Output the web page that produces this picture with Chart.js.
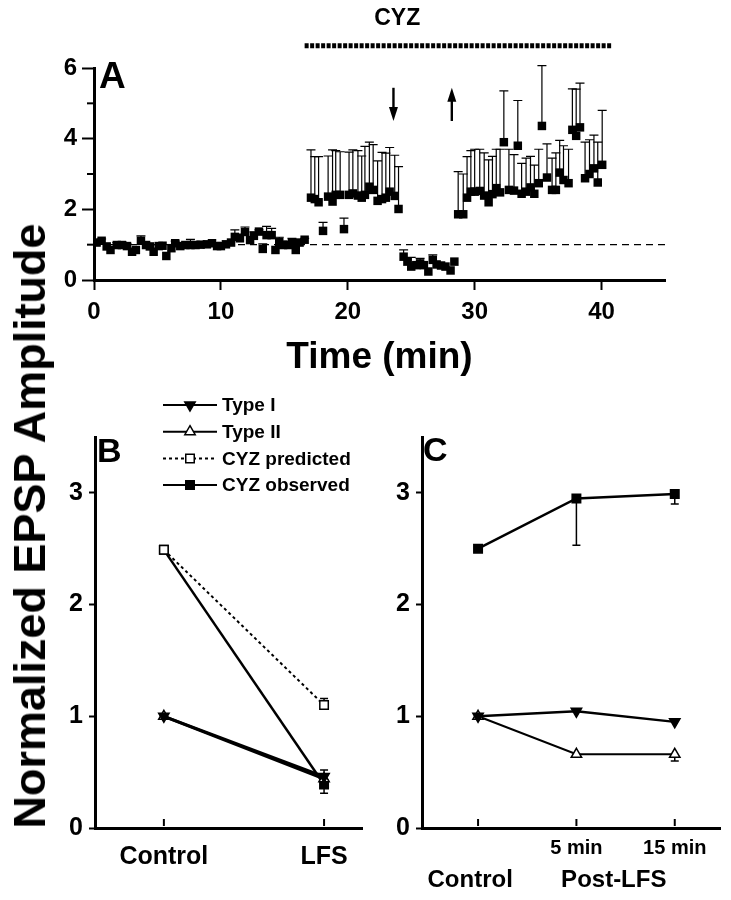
<!DOCTYPE html>
<html>
<head>
<meta charset="utf-8">
<script src="https://cdn.jsdelivr.net/npm/chart.js@4.4.1/dist/chart.umd.min.js"></script>
<style>
  body { margin: 0; background: #fff; width: 731px; height: 900px; position: relative; overflow: hidden; font-family: 'Liberation Sans', Arial, sans-serif; }
  canvas { position: absolute; }
  #chartA { left: 0; top: 0; }
  #chartB { left: 0; top: 390px; }
  #chartC { left: 370px; top: 390px; }
  #yTitle { position: absolute; left: 30px; top: 526px; transform: translate(-50%, -50%) rotate(-90deg); font-weight: bold; font-size: 45px; white-space: nowrap; color: #000; }
</style>
</head>
<body>
<canvas id="chartA" width="731" height="390"></canvas>
<canvas id="chartB" width="370" height="510"></canvas>
<canvas id="chartC" width="361" height="510"></canvas>
<div id="yTitle">Normalized EPSP Amplitude</div>
<script>
// ---- Panel A: time course ----
const timeA = [
  0.2, 0.6, 1.0, 1.3, 1.8, 2.2, 2.6, 3.0, 3.3, 3.7, 4.1, 4.4, 4.7, 5.1, 5.4, 5.7, 6.1, 6.4, 6.8, 7.2,
  7.6, 8.0, 8.4, 8.9, 9.3, 9.7, 10.0, 10.4, 10.8, 11.1, 11.5, 11.9, 12.3, 12.6, 13.0, 13.3, 13.6, 14.0, 14.3, 14.6,
  14.9, 15.3, 15.6, 15.9, 16.2, 16.6,
  17.1, 17.4, 17.7, 18.05, 18.45, 18.8, 19.05, 19.4, 19.7, 20.1, 20.4, 20.8, 21.1, 21.35, 21.7, 22.0, 22.35, 22.7, 23.0, 23.3,
  23.7, 24.0,
  24.4, 24.7, 25.0, 25.4, 25.7, 26.0, 26.35, 26.7, 27.0, 27.35, 27.7, 28.1, 28.4,
  28.7, 29.1, 29.4, 29.7, 30.0, 30.4, 30.75, 31.1, 31.4, 31.7, 32.0, 32.3, 32.7, 33.1, 33.4, 33.7, 34.05, 34.4, 34.7, 35.05,
  35.3, 35.7, 36.1, 36.4, 36.7, 37.0, 37.4, 37.7, 38.0, 38.3, 38.7, 39.05, 39.4, 39.7, 40.05
];
const ampA = [
  1.06, 1.11, 0.95, 0.85, 0.99, 0.99, 0.96, 0.80, 0.85, 1.11, 0.99, 0.95, 0.80, 0.96, 0.97, 0.68, 0.90, 1.04, 0.96, 0.99,
  0.99, 0.99, 1.00, 1.01, 1.04, 0.96, 0.96, 1.01, 1.06, 1.22, 1.18, 1.36, 1.13, 1.25, 1.37, 0.88, 1.27, 1.27, 0.85, 1.08,
  0.99, 0.99, 1.04, 0.85, 1.06, 1.14,
  2.33, 2.29, 2.20, 1.39, 2.36, 2.22, 2.41, 2.41, 1.44, 2.41, 2.45, 2.39, 2.33, 2.41, 2.64, 2.55, 2.24, 2.29, 2.33, 2.50,
  2.38, 2.01,
  0.66, 0.52, 0.38, 0.42, 0.47, 0.42, 0.24, 0.57, 0.44, 0.41, 0.38, 0.27, 0.52,
  1.86, 1.86, 2.33, 2.50, 2.50, 2.52, 2.39, 2.20, 2.43, 2.60, 2.48, 3.90, 2.55, 2.53, 3.80, 2.44, 2.50, 2.62, 2.44, 2.74,
  4.36, 2.90, 2.55, 2.55, 3.04, 2.83, 2.74, 4.25, 4.08, 4.32, 2.88, 3.00, 3.16, 2.76, 3.26
];
const semA = [
  0, 0.05, 0, 0, 0.07, 0.09, 0.06, 0, 0, 0.14, 0.05, 0, 0, 0.04, 0, 0, 0, 0.06, 0, 0,
  0.16, 0.09, 0, 0.05, 0, 0, 0, 0, 0, 0.20, 0.12, 0.14, 0, 0.11, 0.05, 0.14, 0.25, 0.19, 0, 0.13,
  0.11, 0, 0.14, 0.15, 0, 0.04,
  1.35, 1.20, 1.29, 0.24, 1.15, 1.46, 1.25, 1.22, 0.31, 1.21, 1.23, 1.27, 1.18, 1.37, 1.26, 1.28, 1.13, 1.32, 1.26, 1.25,
  1.15, 1.20,
  0.19, 0, 0.26, 0, 0.14, 0, 0, 0.14, 0, 0, 0, 0, 0,
  1.21, 1.14, 1.16, 1.16, 1.20, 1.18, 1.21, 1.20, 1.07, 1.10, 1.22, 1.45, 1.15, 1.02, 1.28, 0.86, 0.95, 0.88, 0.81, 0.96,
  1.71, 0.95, 0.90, 1.05, 0.91, 0.97, 0.96, 1.16, 1.32, 1.25, 1.02, 0.97, 0.94, 1.14, 1.54
];
const xTicksA = [0, 10, 20, 30, 40];
const yTicksA = [0, 2, 4, 6];
const yMinorTicksA = [1, 3, 5];
const baselineA = 1;
const cyzLabel = 'CYZ';
const cyzStart = 16.6;
const cyzEnd = 40.8;
const arrowDownAt = 23.6;
const arrowUpAt = 28.2;

// ---- Panel B: before / after LFS ----
const catsB = ['Control', 'LFS'];
const typeIB = [1.0, 0.46];
const typeIIB = [1.0, 0.44];
const cyzPredB = [2.49, 1.10];
const cyzObsB = [2.49, 0.39];

// ---- Panel C: post-LFS time points ----
const catsC = ['', '5 min', '15 min'];
const groupLabelsC = ['Control', 'Post-LFS'];
const groupPosC = [-0.08, 1.38];
const typeIC = [1.0, 1.045, 0.95];
const typeIIC = [1.0, 0.66, 0.66];
const cyzObsC = [2.5, 2.95, 2.99];

Chart.defaults.font.family = "'Liberation Sans', Arial, sans-serif";
Chart.defaults.font.weight = 'bold';
Chart.defaults.color = '#000';

function pts(xs, ys) {
  return ys.map((v, i) => ({ x: xs[i], y: v }));
}

const errorBars = {
  id: 'errorBars',
  beforeDatasetsDraw(chart) {
    const ctx = chart.ctx;
    chart.data.datasets.forEach((ds, di) => {
      if (!ds.errUp && !ds.errDown) return;
      const meta = chart.getDatasetMeta(di);
      const yScale = chart.scales[meta.yAxisID];
      const cap = ds.errCap || 4;
      ctx.save();
      ctx.strokeStyle = '#000';
      ctx.lineWidth = ds.errWidth || 1;
      meta.data.forEach((pt, i) => {
        const v = ds.data[i].y;
        [[ds.errUp, 1], [ds.errDown, -1]].forEach(([arr, sign]) => {
          if (!arr || !arr[i]) return;
          const yEnd = yScale.getPixelForValue(v + sign * arr[i]);
          ctx.beginPath();
          ctx.moveTo(pt.x, pt.y);
          ctx.lineTo(pt.x, yEnd);
          ctx.moveTo(pt.x - cap, yEnd);
          ctx.lineTo(pt.x + cap, yEnd);
          ctx.stroke();
        });
      });
      ctx.restore();
    });
  }
};

const panelLetter = {
  id: 'panelLetter',
  afterDraw(chart, args, opts) {
    const ctx = chart.ctx;
    ctx.save();
    ctx.fillStyle = '#000';
    ctx.font = 'bold ' + opts.size + "px 'Liberation Sans', Arial, sans-serif";
    ctx.textBaseline = 'alphabetic';
    ctx.fillText(opts.text, chart.chartArea.left + opts.dx, chart.chartArea.top + opts.dy);
    ctx.restore();
  }
};

const annotA = {
  id: 'annotA',
  beforeDatasetsDraw(chart) {
    const { ctx, scales: { x, y } } = chart;
    ctx.save();
    ctx.strokeStyle = '#000';
    ctx.lineWidth = 1.3;
    ctx.setLineDash([7, 5]);
    ctx.beginPath();
    ctx.moveTo(x.getPixelForValue(0), y.getPixelForValue(baselineA));
    ctx.lineTo(x.getPixelForValue(45), y.getPixelForValue(baselineA));
    ctx.stroke();
    ctx.setLineDash([]);
    // minor y ticks
    ctx.lineWidth = 2;
    yMinorTicksA.forEach(v => {
      const py = y.getPixelForValue(v);
      ctx.beginPath();
      ctx.moveTo(x.left - 7, py);
      ctx.lineTo(x.left, py);
      ctx.stroke();
    });
    ctx.restore();
  },
  afterDraw(chart) {
    const { ctx, scales: { x, y } } = chart;
    ctx.save();
    ctx.strokeStyle = '#000';
    ctx.fillStyle = '#000';
    // drug bar
    const barY = y.getPixelForValue(6.63);
    ctx.lineWidth = 5;
    ctx.setLineDash([4, 1.5]);
    ctx.beginPath();
    ctx.moveTo(x.getPixelForValue(cyzStart), barY);
    ctx.lineTo(x.getPixelForValue(cyzEnd), barY);
    ctx.stroke();
    ctx.setLineDash([]);
    ctx.font = "bold 23px 'Liberation Sans', Arial, sans-serif";
    ctx.textAlign = 'center';
    ctx.textBaseline = 'middle';
    ctx.fillText(cyzLabel, x.getPixelForValue(23.9), y.getPixelForValue(7.4));
    // arrows
    const hi = y.getPixelForValue(5.44);
    const lo = y.getPixelForValue(4.5);
    function arrow(px, from, to) {
      const dir = to > from ? 1 : -1;
      ctx.lineWidth = 2.4;
      ctx.beginPath();
      ctx.moveTo(px, from);
      ctx.lineTo(px, to - dir * 10);
      ctx.stroke();
      ctx.beginPath();
      ctx.moveTo(px, to);
      ctx.lineTo(px - 4.5, to - dir * 14);
      ctx.lineTo(px + 4.5, to - dir * 14);
      ctx.closePath();
      ctx.fill();
    }
    arrow(x.getPixelForValue(arrowDownAt), hi, lo);
    arrow(x.getPixelForValue(arrowUpAt), lo, hi);
    ctx.restore();
  }
};

new Chart(document.getElementById('chartA'), {
  type: 'scatter',
  data: {
    datasets: [{
      data: pts(timeA, ampA),
      errUp: semA,
      errCap: 4.5,
      errWidth: 1.2,
      pointStyle: 'rect',
      pointRadius: 6,
      backgroundColor: '#000',
      borderColor: '#000',
      borderWidth: 0
    }]
  },
  options: {
    responsive: false,
    animation: false,
    layout: { padding: { top: 68, right: 66, bottom: 0, left: 0 } },
    plugins: {
      legend: { display: false },
      tooltip: { enabled: false },
      panelLetter: { text: 'A', size: 37, dx: 5, dy: 20 }
    },
    scales: {
      x: {
        type: 'linear', min: 0, max: 45,
        afterBuildTicks: s => { s.ticks = xTicksA.map(v => ({ value: v })); },
        afterFit: s => { s.height = 110; },
        grid: { drawOnChartArea: false, tickLength: 10, tickWidth: 2, tickColor: '#000' },
        border: { color: '#000', width: 3 },
        ticks: { font: { size: 24 }, padding: 8, maxRotation: 0 },
        title: { display: true, text: 'Time (min)', font: { size: 37 }, padding: { top: 0, bottom: 10 } }
      },
      y: {
        min: 0, max: 6,
        afterBuildTicks: s => { s.ticks = yTicksA.map(v => ({ value: v })); },
        afterFit: s => { s.width = 94; },
        grid: { drawOnChartArea: false, tickLength: 12, tickWidth: 2, tickColor: '#000' },
        border: { color: '#000', width: 3 },
        ticks: { font: { size: 24 }, padding: 5 }
      }
    }
  },
  plugins: [errorBars, annotA, panelLetter]
});

// inward tick marks on the category axis of B and C
const innerTicks = {
  id: 'innerTicks',
  afterDraw(chart) {
    const { ctx, scales: { x } } = chart;
    ctx.save();
    ctx.strokeStyle = '#000';
    ctx.lineWidth = 2;
    x.ticks.forEach(t => {
      const px = x.getPixelForValue(t.value);
      ctx.beginPath();
      ctx.moveTo(px, x.top - 2);
      ctx.lineTo(px, x.top - 9);
      ctx.stroke();
    });
    ctx.restore();
  }
};

const legendB = {
  id: 'legendB',
  afterDraw(chart) {
    const ctx = chart.ctx;
    chart.data.datasets.forEach((ds, i) => {
      const yy = 15 + i * 26.7;
      ctx.save();
      ctx.strokeStyle = '#000';
      ctx.fillStyle = ds.pointBackgroundColor;
      ctx.lineWidth = 2;
      ctx.setLineDash(ds.borderDash || []);
      ctx.beginPath();
      ctx.moveTo(163, yy);
      ctx.lineTo(217, yy);
      ctx.stroke();
      ctx.setLineDash([]);
      ctx.lineWidth = ds.pointBorderWidth;
      Chart.helpers.drawPoint(ctx, {
        pointStyle: ds.pointStyle,
        rotation: ds.pointRotation || 0,
        radius: ds.pointRadius,
        borderWidth: ds.pointBorderWidth
      }, 190, yy);
      ctx.fillStyle = '#000';
      ctx.font = "bold 19px 'Liberation Sans', Arial, sans-serif";
      ctx.textBaseline = 'middle';
      ctx.fillText(ds.label, 222, yy + 1);
      ctx.restore();
    });
  }
};

const groupLabels = {
  id: 'groupLabels',
  afterDraw(chart) {
    const { ctx, scales: { x } } = chart;
    ctx.save();
    ctx.fillStyle = '#000';
    ctx.font = "bold 24px 'Liberation Sans', Arial, sans-serif";
    ctx.textAlign = 'center';
    ctx.textBaseline = 'middle';
    groupLabelsC.forEach((t, i) => {
      ctx.fillText(t, x.getPixelForValue(groupPosC[i]), 490);
    });
    ctx.restore();
  }
};

function seriesSet(label, xs, ys, style) {
  return Object.assign({
    label,
    data: pts(xs, ys),
    showLine: true,
    borderColor: '#000',
    borderWidth: 2.5,
    pointBorderColor: '#000',
    pointBorderWidth: 1.5,
    pointRadius: 6,
    errWidth: 1.5,
    errCap: 4
  }, style);
}

function panelScales(xmin, xmax, yWidth, tickLabels, tickPad, tickSize) {
  return {
    x: {
      type: 'linear', min: xmin, max: xmax,
      afterBuildTicks: s => { s.ticks = tickLabels.map((l, i) => ({ value: i })); },
      afterFit: s => { s.height = 72; },
      grid: { drawOnChartArea: false, drawTicks: false },
      border: { color: '#000', width: 3 },
      ticks: { font: { size: tickSize }, padding: tickPad, maxRotation: 0, callback: (v) => tickLabels[v] }
    },
    y: {
      min: 0, max: 3.5,
      afterBuildTicks: s => { s.ticks = [0, 1, 2, 3].map(v => ({ value: v })); },
      afterFit: s => { s.width = yWidth; },
      grid: { drawOnChartArea: false, tickLength: 6, tickWidth: 2, tickColor: '#000' },
      border: { color: '#000', width: 3 },
      ticks: { font: { size: 25 }, padding: 6 }
    }
  };
}

const xsB = [0, 1];
new Chart(document.getElementById('chartB'), {
  type: 'scatter',
  data: {
    datasets: [
      seriesSet('Type I', xsB, typeIB, { pointStyle: 'triangle', pointRotation: 180, pointBackgroundColor: '#000', borderWidth: 3, errUp: [0, 0.06] }),
      seriesSet('Type II', xsB, typeIIB, { pointStyle: 'triangle', pointBackgroundColor: '#fff', borderWidth: 3 }),
      seriesSet('CYZ predicted', xsB, cyzPredB, { pointStyle: 'rect', pointRadius: 6, pointBackgroundColor: '#fff', borderWidth: 2, borderDash: [3, 3], errUp: [0, 0.06] }),
      seriesSet('CYZ observed', xsB, cyzObsB, { pointStyle: 'rect', pointRadius: 6, pointBackgroundColor: '#000', errDown: [0, 0.08] })
    ]
  },
  options: {
    responsive: false,
    animation: false,
    layout: { padding: { top: 47, right: 3, bottom: 0, left: 0 } },
    plugins: {
      legend: { display: false },
      tooltip: { enabled: false },
      panelLetter: { text: 'B', size: 34, dx: 2, dy: 25 }
    },
    scales: panelScales(-0.43, 1.24, 95, catsB, 14, 25)
  },
  plugins: [errorBars, innerTicks, legendB, panelLetter]
});

const xsC = [0, 1, 2];
new Chart(document.getElementById('chartC'), {
  type: 'scatter',
  data: {
    datasets: [
      seriesSet('Type I', xsC, typeIC, { pointStyle: 'triangle', pointRotation: 180, pointBackgroundColor: '#000' }),
      seriesSet('Type II', xsC, typeIIC, { pointStyle: 'triangle', pointBackgroundColor: '#fff', borderWidth: 2, errDown: [0, 0, 0.06] }),
      seriesSet('CYZ observed', xsC, cyzObsC, { pointStyle: 'rect', pointRadius: 6, pointBackgroundColor: '#000', errDown: [0, 0.42, 0.09] })
    ]
  },
  options: {
    responsive: false,
    animation: false,
    layout: { padding: { top: 47, right: 11, bottom: 0, left: 0 } },
    plugins: {
      legend: { display: false },
      tooltip: { enabled: false },
      panelLetter: { text: 'C', size: 34, dx: 1, dy: 24 }
    },
    scales: panelScales(-0.57, 2.46, 52, catsC, 8, 20)
  },
  plugins: [errorBars, innerTicks, groupLabels, panelLetter]
});
</script>
</body>
</html>
